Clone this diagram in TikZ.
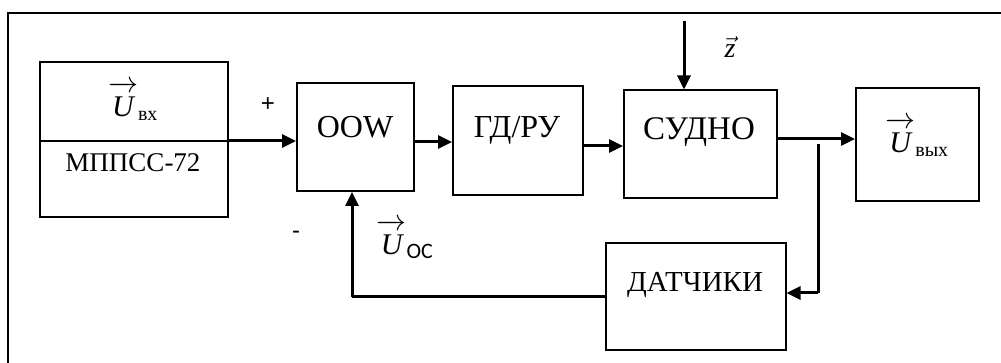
\RequirePackage{fix-cm}
\documentclass[tikz,border=0pt]{standalone}
\usepackage{amsmath}
\usepackage{fontspec}
\setmainfont{Liberation Serif}
\newfontfamily\carl{Carlito}
\newfontfamily\arialf{Liberation Sans}
\usetikzlibrary{arrows.meta}
\newcommand{\vU}{\overrightarrow{\text{\itshape U\rule{0pt}{0.8em}}}}
\begin{document}
\begin{tikzpicture}[x=1pt,y=1pt,
  box/.style={draw,line width=1.5pt,inner sep=0pt,anchor=south west},
  lbl/.style={font=\fontsize{32}{34}\selectfont,inner sep=0pt},
  arr/.style={line width=3pt,-{Triangle[length=14pt,width=13pt]}},
  wire/.style={line width=3pt}]
\useasboundingbox (0,0) rectangle (1001,363);
% frame (top and left only)
\coordinate (fa) at (8,0);
\coordinate (fb) at (8,350);
\coordinate (fc) at (1001,350);
\draw[line width=2.2pt] (fa) -- (fb) -- (fc);
% boxes
\node[box,minimum width=188pt,minimum height=155pt] (mp) at (39,145) {};
\coordinate (mpl) at (39,222);
\coordinate (mpout) at (227,222);
\draw[line width=1.5pt] (mpl) -- (mpout);
\node[box,minimum width=117pt,minimum height=108pt] (oow) at (296,171) {};
\node[box,minimum width=130pt,minimum height=109pt] (gd) at (452,167) {};
\node[box,minimum width=153pt,minimum height=108pt] (sud) at (623,164) {};
\node[box,minimum width=123pt,minimum height=113pt] (out) at (855,161) {};
\node[box,minimum width=180pt,minimum height=107pt] (dat) at (605,12) {};
% texts
\node[lbl,font=\fontsize{30}{32}\selectfont] (tuvx) at (133,262) {$\vU_{\text{\upshape\fontsize{20}{22}\selectfont вх}}$};
\node[lbl,font=\fontsize{27}{30}\selectfont] (tmp) at (133,200) {МППСС-72};
\node[lbl] (toow) at (355,236) {OOW};
\node[lbl] (tgd) at (517,233) {ГД/РУ};
\node[lbl,font=\fontsize{33}{35}\selectfont] (tsud) at (699,231) {СУДНО};
\node[lbl,font=\fontsize{30}{32}\selectfont] (tout) at (917,226) {$\vU_{\text{\upshape\fontsize{20}{22}\selectfont вых}}$};
\node[lbl,font=\fontsize{29}{31}\selectfont] (tdat) at (695,78) {ДАТЧИКИ};
\node[lbl,font=\fontsize{28}{30}\selectfont] (tz) at (730,316) {$\vec{\text{\itshape z}}$};
\node[lbl,font=\fontsize{30}{32}\selectfont] (toc) at (405,124) {$\vU_{\text{\carl\upshape\fontsize{22}{24}\selectfont OC}}$};
\node[inner sep=0pt,font=\arialf\fontsize{24}{26}\selectfont] (plus) at (268,258) {+};
\node[inner sep=0pt,font=\arialf\fontsize{24}{26}\selectfont] (minus) at (296,128) {-};
% connectors
\draw[arr] (mpout) -- (mpout -| oow.west);
\coordinate (g1) at (413,221);
\draw[arr] (g1) -- (g1 -| gd.west);
\coordinate (g2) at (582,217);
\draw[arr] (g2) -- (g2 -| sud.west);
\coordinate (g3) at (776,224);
\draw[arr] (g3) -- (g3 -| out.west);
\coordinate (zs) at (684,342);
\draw[arr] (zs) -- (zs |- sud.north);
\coordinate (fbt) at (818,219);
\coordinate (fbc) at (818,70);
\draw[wire] (fbt) -- (fbc);
\draw[arr] (fbc) -- (fbc -| dat.east);
\coordinate (fl) at (605,66);
\coordinate (flc) at (352,66);
\draw[wire] (fl) -- (flc);
\draw[arr] (flc) -- (flc |- oow.south);
\end{tikzpicture}
\end{document}
